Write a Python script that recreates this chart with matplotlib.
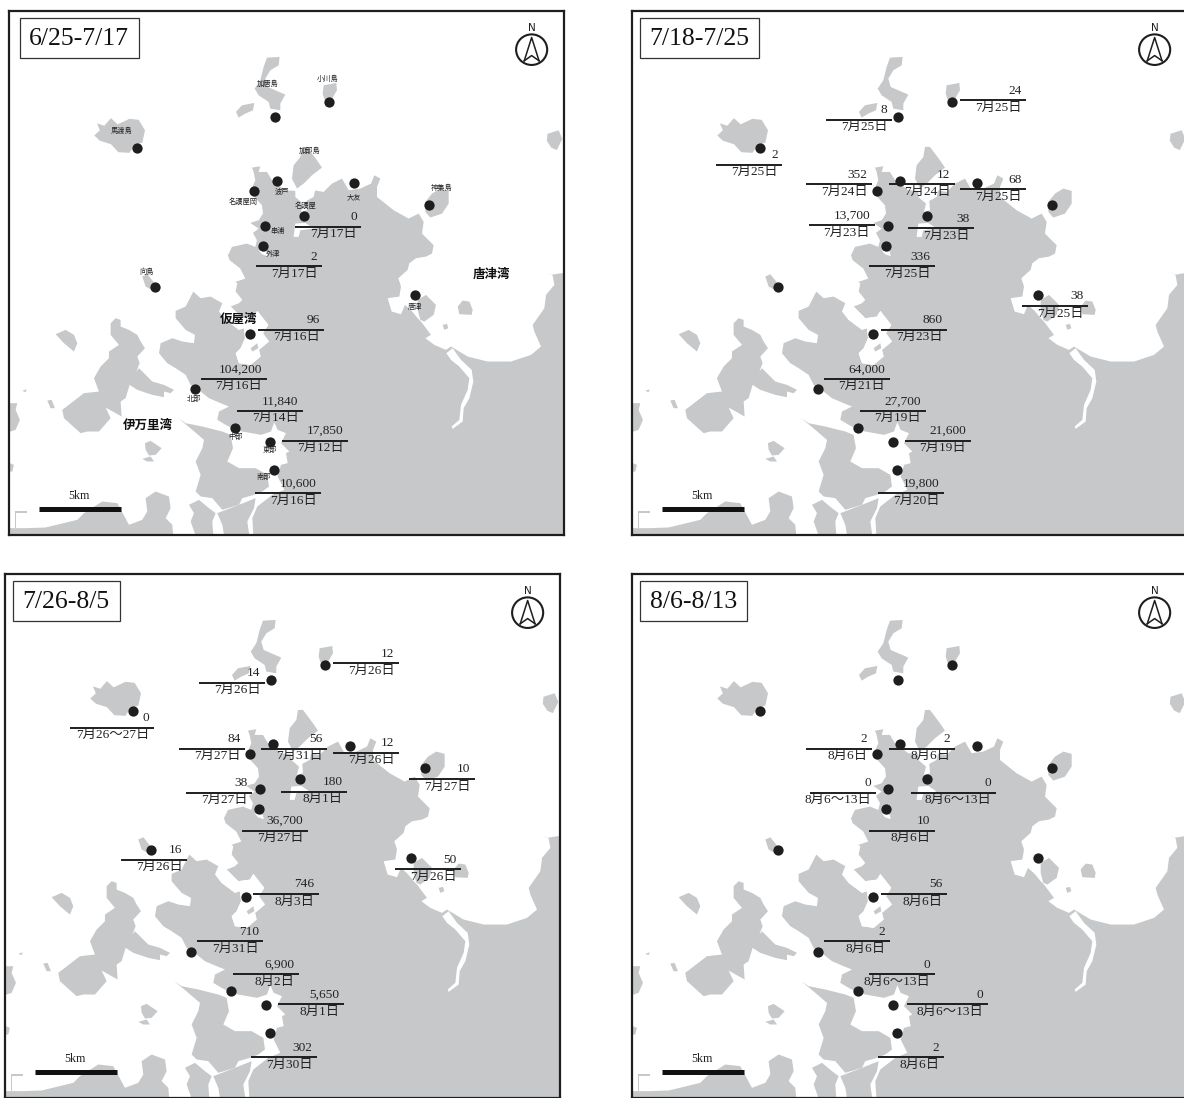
import matplotlib
matplotlib.use('Agg')
from matplotlib import pyplot as plt
from matplotlib.patches import Ellipse, Rectangle

plt.rcParams['font.family'] = ['Liberation Serif', 'Noto Sans CJK JP']

# Map units are the same in every panel, stations are shared
station_x = [744, 890, 370, 750, 687, 958, 1159, 823, 715, 711, 419, 1122, 676, 527, 636, 731, 742]
station_y = [337, 294, 427, 520, 551, 527, 589, 622, 650, 707, 825, 848, 960, 1120, 1231, 1273, 1352]

titles = ['6/25-7/17', '7/18-7/25', '7/26-8/5', '8/6-8/13']
title_box_left = [53, 47, 46, 47]
title_box_right = [375, 368, 334, 334]

# labels: count, date, rule left, rule y, rule length
p1_counts = ['0', '2', '96', '104,200', '11,840', '17,850', '10,600']
p1_dates = ['7月17日', '7月17日', '7月16日', '7月16日', '7月14日', '7月12日', '7月16日']
p1_x = [798, 692, 698, 543, 641, 763, 690]
p1_y = [652, 767, 949, 1090, 1182, 1268, 1420]
p1_len = [178, 178, 178, 178, 178, 178, 178]

p2_counts = ['24', '8', '2', '352', '12', '68', '13,700', '38', '336', '38', '860', '64,000', '27,700', '21,600',
             '19,800']
p2_dates = ['7月25日', '7月25日', '7月25日', '7月24日', '7月24日', '7月25日', '7月23日', '7月23日', '7月25日', '7月25日',
            '7月23日', '7月21日', '7月19日', '7月19日', '7月20日']
p2_x = [911, 549, 252, 495, 719, 911, 502, 771, 665, 1079, 698, 543, 640, 762, 689]
p2_y = [288, 344, 474, 531, 531, 544, 647, 656, 767, 880, 949, 1090, 1182, 1268, 1420]
p2_len = [178] * 15

p3_counts = ['12', '14', '0', '84', '56', '12', '10', '180', '38', '36,700', '16', '50', '746', '710', '6,900',
             '5,650', '302']
p3_dates = ['7月26日', '7月26日', '7月26〜27日', '7月27日', '7月31日', '7月26日', '7月27日', '8月1日', '7月27日', '7月27日',
            '7月26日', '7月26日', '8月3日', '7月31日', '8月2日', '8月1日', '7月30日']
p3_x = [911, 549, 200, 495, 717, 911, 1117, 771, 514, 665, 338, 1079, 695, 544, 641, 763, 690]
p3_y = [289, 344, 474, 534, 534, 546, 621, 658, 661, 770, 854, 882, 952, 1089, 1184, 1270, 1423]
p3_len = [178, 178, 226, 178, 178, 178, 178, 178, 178, 178, 178, 178, 178, 178, 178, 178, 178]

p4_counts = ['2', '2', '0', '0', '10', '56', '2', '0', '0', '2']
p4_dates = ['8月6日', '8月6日', '8月6〜13日', '8月6〜13日', '8月6日', '8月6日', '8月6日', '8月6〜13日', '8月6〜13日', '8月6日']
p4_x = [495, 719, 505, 778, 665, 698, 543, 665, 768, 689]
p4_y = [534, 534, 661, 661, 770, 952, 1089, 1184, 1270, 1423]
p4_len = [178, 178, 178, 229, 178, 178, 178, 178, 218, 178]

panel_labels = [(p1_counts, p1_dates, p1_x, p1_y, p1_len),
                (p2_counts, p2_dates, p2_x, p2_y, p2_len),
                (p3_counts, p3_dates, p3_x, p3_y, p3_len),
                (p4_counts, p4_dates, p4_x, p4_y, p4_len)]

# place names only on the first panel
place_names = ['加唐島', '小川島', '馬渡島', '加部島', '波戸', '名護屋岡', '大友', '神集島', '名護屋', '串浦', '外津', '向島',
               '唐津', '北部', '中部', '東部', '南部']
place_x = [724, 886, 330, 838, 762, 658, 958, 1195, 827, 750, 737, 396, 1122, 524, 637, 731, 712]
place_y = [242, 228, 378, 434, 552, 581, 569, 541, 593, 666, 732, 782, 884, 1147, 1258, 1296, 1373]
bay_names = ['唐津湾', '仮屋湾', '伊万里湾']
bay_x = [1327, 646, 401]
bay_y = [790, 918, 1223]

# coast traced by eye, in three overlapping tracings of the bottom right panel
north_coast_a = [(315, 362), (340, 358), (335, 375), (360, 375), (375, 400), (395, 415), (415, 430), (445, 432),
                 (500, 430), (530, 435), (555, 410), (585, 395), (605, 430), (640, 425), (672, 410), (682, 385),
                 (700, 395), (690, 420), (690, 450), (740, 490), (785, 515), (815, 500), (830, 525), (825, 560),
                 (860, 595), (855, 620)]
east_coast_c = [(495, 65), (465, 70), (445, 85), (440, 105), (412, 130), (420, 155), (415, 185), (380, 190), (392, 230),
                (420, 238), (432, 210), (452, 228), (470, 250), (480, 260), (510, 300), (493, 310), (520, 330),
                (555, 345), (570, 335), (620, 365), (680, 380), (750, 380), (810, 360), (840, 335), (820, 290),
                (815, 270), (850, 220), (855, 180), (880, 150), (875, 122), (858, 112), (870, 120), (900, 115),
                (930, 115), (930, 930)]
west_coast_b = [(735, 930), (730, 850), (745, 815), (790, 780), (826, 765), (806, 725), (816, 690), (836, 685),
                (831, 655), (841, 650), (816, 625), (831, 595), (806, 585), (796, 562), (786, 590), (756, 600),
                (700, 590), (680, 585), (650, 570), (625, 555), (630, 530), (660, 515), (635, 505), (600, 490),
                (575, 470), (545, 450), (530, 420), (500, 400), (475, 385), (450, 355), (455, 325), (490, 310),
                (520, 320), (555, 325), (558, 300), (530, 285), (500, 250), (500, 228), (530, 215), (553, 170),
                (575, 190), (605, 185), (640, 205), (630, 230), (650, 255), (690, 285), (705, 280), (708, 310),
                (695, 340), (680, 355), (690, 385), (725, 390), (755, 365), (750, 345), (780, 320), (762, 295),
                (778, 270), (745, 228), (735, 245), (700, 250), (665, 215), (690, 205), (700, 195), (680, 170),
                (685, 145)]
north_coast_a2 = [(265, 705), (295, 695), (280, 665), (248, 640), (243, 625), (255, 600), (300, 590), (325, 600),
                  (330, 580), (318, 558), (335, 545), (310, 528), (335, 520), (348, 500), (345, 475), (322, 450),
                  (312, 430), (325, 400), (320, 375)]

# islands, crop A
kakara = [(360, 32), (398, 30), (395, 55), (370, 70), (355, 95), (362, 120), (415, 143), (400, 170), (400, 190),
          (370, 185), (365, 165), (335, 145), (323, 125), (340, 100), (350, 60)]
kakara_small = [(267, 195), (285, 175), (322, 168), (318, 190), (295, 200), (275, 212)]
ogawa = [(530, 115), (568, 108), (570, 130), (555, 155), (535, 165), (527, 140)]
kabe = [(465, 300), (480, 300), (510, 340), (525, 362), (495, 385), (470, 410), (450, 425), (435, 395), (440, 355),
        (460, 330)]
kashiwa = [(855, 440), (880, 425), (905, 432), (905, 470), (885, 500), (850, 512), (835, 495), (835, 465)]
islands_a = [kakara, kakara_small, ogawa, kabe, kashiwa]

# islands, crop B
west_island = [(305, 265), (320, 250), (335, 255), (335, 275), (360, 285), (385, 300), (395, 320), (408, 340),
               (385, 365), (392, 385), (382, 410), (390, 400), (430, 440), (465, 450), (495, 465), (485, 475),
               (465, 470), (465, 487), (430, 480), (385, 465), (362, 450), (350, 490), (335, 500), (338, 545),
               (290, 518), (305, 550), (270, 590), (235, 590), (215, 595), (165, 550), (160, 525), (225, 475),
               (270, 470), (255, 430), (275, 395), (300, 370), (300, 350), (330, 330), (305, 300)]
west_small = [(140, 298), (170, 285), (195, 300), (205, 325), (195, 350), (165, 325)]
dot_island = [(115, 497), (128, 495), (138, 520), (125, 520)]
dot_island2 = [(40, 468), (53, 463), (50, 472)]
bay_island = [(408, 625), (425, 618), (458, 640), (440, 660), (420, 662), (410, 645)]
bay_island2 = [(400, 672), (425, 665), (435, 680), (415, 680)]
edge_blob = [(-10, 505), (25, 505), (20, 525), (33, 555), (20, 585), (-10, 595)]
edge_blob2 = [(-10, 680), (15, 690), (10, 710), (-10, 712)]
mukai = [(400, 125), (415, 118), (437, 145), (428, 165), (410, 155)]
south_land = [(508, 550), (530, 565), (580, 575), (640, 590), (665, 600), (672, 640), (655, 680), (690, 700),
              (740, 700), (775, 720), (780, 755), (760, 770), (735, 780), (700, 790), (690, 810), (640, 825),
              (610, 790), (575, 785), (560, 770), (575, 720), (560, 680), (580, 640), (585, 615), (550, 585)]
south_land2 = [(540, 810), (570, 795), (600, 820), (620, 835), (610, 860), (615, 930), (570, 930), (545, 860),
               (555, 835)]
south_land3 = [(625, 835), (690, 810), (740, 790), (735, 820), (715, 860), (725, 930), (650, 930), (640, 870)]
bottom_land = [(-10, 880), (50, 880), (110, 878), (205, 855), (225, 835), (280, 800), (325, 805), (360, 870), (400, 855),
               (415, 830), (410, 790), (440, 770), (480, 785), (485, 820), (470, 850), (490, 870), (495, 930),
               (-10, 930)]
bottom_corner = [(18, 830), (55, 830), (55, 834), (22, 834), (22, 880), (18, 880)]
islands_b = [west_island, west_small, dot_island, dot_island2, bay_island, bay_island2, edge_blob, edge_blob2, mukai,
             south_land, south_land2, south_land3, bottom_land, bottom_corner]

# islands, crop C
karatsu_lobe = [(470, 195), (495, 180), (525, 210), (518, 240), (490, 260), (478, 255), (470, 225)]
bay_small = [(590, 215), (605, 197), (625, 200), (635, 225), (632, 240), (595, 238)]
bay_dot = [(545, 270), (558, 267), (562, 280), (550, 285)]
islands_c = [karatsu_lobe, bay_small, bay_dot]

# traced directly in map units
madara = [(262, 355), (282, 362), (300, 340), (318, 358), (350, 342), (375, 345), (392, 375), (385, 410), (362, 420),
          (350, 440), (320, 438), (300, 415), (270, 405), (255, 390), (270, 375)]
edge_island = [(1480, 385), (1510, 375), (1520, 400), (1505, 432), (1490, 425), (1478, 405)]

# water cut back out of the land
nagoya_inlet = [(445, 430), (505, 428), (500, 450), (478, 462), (480, 490), (462, 495), (468, 470), (445, 450)]
nagoya_basin = [(445, 530), (475, 528), (500, 545), (460, 550), (455, 570), (440, 570)]
sototsu_cut = [(335, 610), (360, 615), (362, 628), (345, 622)]
river = [(556, 355), (575, 340), (582, 350), (600, 375), (632, 405), (637, 440), (625, 490), (608, 520), (605, 560),
         (575, 582), (572, 575), (595, 555), (600, 510), (620, 465), (625, 430), (595, 395), (570, 375)]
kariya_bay = [(708, 310), (695, 340), (680, 355), (690, 385), (725, 390), (755, 365), (750, 345), (780, 320), (762, 295),
              (778, 270), (745, 228), (735, 245), (700, 250), (665, 215), (640, 208), (632, 230), (650, 255), (690, 285),
              (705, 280)]
kariya_inner = [(725, 340), (745, 325), (748, 340), (730, 350)]

LAND = '#c6c8ca'
INK = '#1e1e1e'
PANEL_W, PANEL_H = 555, 524
FIG_W, FIG_H = 1184, 1098
# top left corner of each frame, in pixels
panel_left = [9.2, 632.2, 5.2, 632.2]
panel_top = [11.1, 11.1, 574.1, 574.1]


# tracings were made on zoomed crops of the last panel, bring them to map units
def crop_to_map(poly, x0, y0):
    return [((x0 + x / 3 - 623) * 2.703, (y0 + y / 3 - 563) * 2.877) for x, y in poly]


def crop_a(poly):
    return crop_to_map(poly, 770, 610)


def crop_b(poly):
    return crop_to_map(poly, 632, 798)


def crop_c(poly):
    return crop_to_map(poly, 884, 798)


mainland = crop_a(north_coast_a) + crop_c(east_coast_c) + crop_b(west_coast_b) + crop_a(north_coast_a2)
land_polys = ([mainland, madara, edge_island] + [crop_a(p) for p in islands_a] + [crop_b(p) for p in islands_b]
              + [crop_c(p) for p in islands_c])
water_polys = [crop_a(nagoya_inlet), crop_a(nagoya_basin), crop_a(sototsu_cut), crop_c(river), crop_b(kariya_bay)]

fig = plt.figure(figsize=(FIG_W / 100, FIG_H / 100), dpi=100)

for i in range(4):
    ax = fig.add_axes([panel_left[i] / FIG_W, 1 - (panel_top[i] + PANEL_H) / FIG_H, PANEL_W / FIG_W, PANEL_H / FIG_H])
    ax.set_xlim(25, 1525)
    ax.set_ylim(1540, 32)
    ax.set_xticks([])
    ax.set_yticks([])
    for spine in ax.spines.values():
        spine.set_linewidth(1.6)
        spine.set_color(INK)

    for poly in land_polys:
        ax.fill(*zip(*poly), color=LAND, lw=0, zorder=1)
    for poly in water_polys:
        ax.fill(*zip(*poly), color='white', lw=0, zorder=2)
    ax.fill(*zip(*crop_b(kariya_inner)), color=LAND, lw=0, zorder=3)

    ax.plot(station_x, station_y, 'o', color=INK, ms=7.4, mew=0, zorder=5)

    counts, dates, xs, ys, lens = panel_labels[i]
    for count, date, x, y, length in zip(counts, dates, xs, ys, lens):
        ax.plot([x, x + length], [y, y], color=INK, lw=1.4, solid_capstyle='butt', zorder=4)
        ax.text(x + length - 12, y - 27, count, ha='right', va='center', fontsize=9.6, color='#222222', zorder=6)
        ax.text(x + length - 12, y + 22, date, ha='right', va='center', fontsize=9.6, color='#222222', zorder=6)

    if i == 0:
        for name, x, y in zip(place_names, place_x, place_y):
            ax.text(x, y, name, ha='center', va='center', fontsize=5.2, color='#222222', zorder=6,
                    family='Noto Sans CJK JP')
        for name, x, y in zip(bay_names, bay_x, bay_y):
            ax.text(x, y, name, ha='center', va='center', fontsize=9, color='#111111', zorder=6,
                    family='Noto Sans CJK JP', weight='bold')

    # title box
    ax.add_patch(Rectangle((title_box_left[i], 53), title_box_right[i] - title_box_left[i], 115, fc='white',
                           ec='#333333', lw=0.9, zorder=6))
    ax.text((title_box_left[i] + title_box_right[i]) / 2, 112, titles[i], ha='center', va='center', fontsize=18.5,
            color='#111111', zorder=7)

    # north mark
    ax.add_patch(Ellipse((1437, 143), 84, 88, fc='none', ec=INK, lw=1.5, zorder=6))
    ax.plot([1417, 1437, 1457], [175, 108, 175], color=INK, lw=1.1, zorder=6)
    ax.plot([1417, 1437, 1457], [175, 160, 175], color=INK, lw=1.1, zorder=6)
    ax.text(1437, 80, 'N', ha='center', va='center', fontsize=7.5, color=INK, family='DejaVu Sans', zorder=6)

    # scale bar
    ax.plot([105, 327], [1466, 1466], color='#111111', lw=3.6, solid_capstyle='butt', zorder=6)
    ax.text(214, 1428, '5km', ha='center', va='center', fontsize=8.6, color='#222222', zorder=6)

fig.savefig('out.png', dpi=100)
